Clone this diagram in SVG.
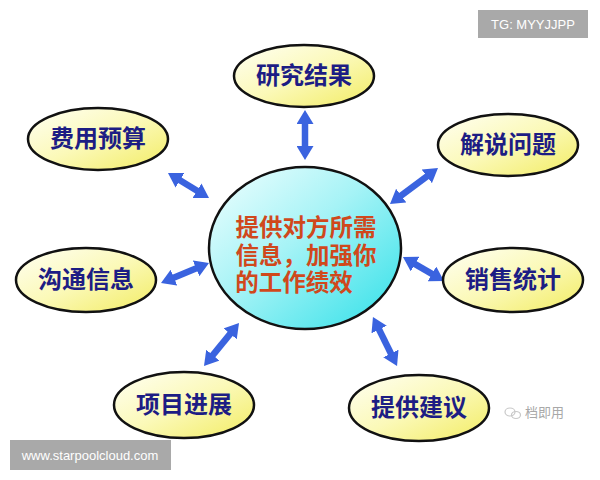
<svg xmlns="http://www.w3.org/2000/svg" width="600" height="480" viewBox="0 0 600 480">
<defs>
<linearGradient id="gy" x1="0" y1="0" x2="1" y2="1">
<stop offset="0" stop-color="#fffff4"/>
<stop offset="0.5" stop-color="#fbf9b8"/>
<stop offset="1" stop-color="#f2ec62"/>
</linearGradient>
<linearGradient id="gc" x1="0" y1="0" x2="1" y2="1">
<stop offset="0" stop-color="#f2ffff"/>
<stop offset="0.45" stop-color="#a6f3f6"/>
<stop offset="1" stop-color="#2fe0e8"/>
</linearGradient>
<marker id="ah" markerUnits="userSpaceOnUse" viewBox="0 0 14 17" markerWidth="14" markerHeight="17" refX="1" refY="8.5" orient="auto-start-reverse">
<path d="M0,0 L14,8.5 L0,17 Z" fill="#3a63df"/>
</marker>
</defs>
<style>
.bg{fill:#ffffff}
.node{fill:url(#gy);stroke:#111;stroke-width:2.5}
.hub{fill:url(#gc);stroke:#111;stroke-width:2.5}
.lbl{font-family:"Noto Sans CJK SC","Noto Sans",sans-serif;font-weight:bold;font-size:24px;fill:#1d1d84;text-anchor:middle}
.hubt{font-family:"Noto Sans CJK SC","Noto Sans",sans-serif;font-weight:bold;font-size:23.5px;fill:#d0481c;text-anchor:middle}
.arr{stroke:#3a63df;stroke-width:6.5;fill:none;marker-start:url(#ah);marker-end:url(#ah)}
.wm{font-family:"Liberation Sans",Arial,sans-serif;font-size:13px;fill:#ffffff}
</style>
<rect class="bg" x="0" y="0" width="600" height="480"/>

<g id="connectors">
<line class="arr" x1="305" y1="123" x2="305" y2="147"/>
<line class="arr" x1="179.1" y1="179.8" x2="197.9" y2="191.2"/>
<line class="arr" x1="173" y1="278" x2="197" y2="268"/>
<line class="arr" x1="427.6" y1="175.8" x2="400.4" y2="196.2"/>
<line class="arr" x1="414.2" y1="263.6" x2="432.8" y2="274.4"/>
<line class="arr" x1="230.8" y1="333.1" x2="212.2" y2="355.9"/>
<line class="arr" x1="378.7" y1="328.7" x2="391.3" y2="354.3"/>
</g>

<g id="hub">
<ellipse class="hub" cx="305" cy="248" rx="96" ry="81"/>
<text class="hubt" x="306" y="236">提供对方所需</text>
<text class="hubt" x="306" y="264">信息，加强你</text>
<text class="hubt" x="294" y="291">的工作绩效</text>
</g>

<g id="n-research">
<ellipse class="node" cx="304" cy="76" rx="70" ry="31"/>
<text class="lbl" x="304" y="84">研究结果</text>
</g>
<g id="n-budget">
<ellipse class="node" cx="98" cy="139" rx="70" ry="31"/>
<text class="lbl" x="98" y="147">费用预算</text>
</g>
<g id="n-problem">
<ellipse class="node" cx="508" cy="145" rx="70" ry="31"/>
<text class="lbl" x="508" y="153">解说问题</text>
</g>
<g id="n-comm">
<ellipse class="node" cx="86" cy="280" rx="70" ry="32"/>
<text class="lbl" x="86" y="288">沟通信息</text>
</g>
<g id="n-sales">
<ellipse class="node" cx="513" cy="280" rx="70" ry="32"/>
<text class="lbl" x="513" y="288">销售统计</text>
</g>
<g id="n-progress">
<ellipse class="node" cx="184" cy="405" rx="70" ry="33"/>
<text class="lbl" x="184" y="413">项目进展</text>
</g>
<g id="n-advice">
<ellipse class="node" cx="419" cy="408" rx="70" ry="33"/>
<text class="lbl" x="419" y="416">提供建议</text>
</g>

<g id="watermarks">
<rect x="478" y="10" width="110" height="28" fill="#a9a9a9"/>
<text class="wm" x="533" y="29" text-anchor="middle">TG: MYYJJPP</text>
<rect x="10" y="440" width="161" height="30" fill="#a9a9a9"/>
<text class="wm" x="90" y="460" text-anchor="middle">www.starpoolcloud.com</text>
<g fill="none" stroke="#c8c8c8" stroke-width="1.2">
<ellipse cx="510" cy="412" rx="5" ry="4"/>
<ellipse cx="516" cy="415" rx="4.5" ry="3.5"/>
</g>
<text x="525" y="417" font-family="Noto Sans CJK SC,sans-serif" font-size="13" fill="#a8a8a8">档即用</text>
</g>
</svg>
